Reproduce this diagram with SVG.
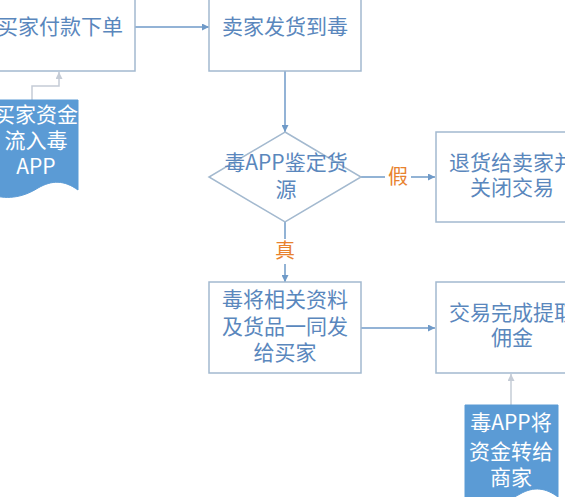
<svg xmlns="http://www.w3.org/2000/svg" width="565" height="497" viewBox="0 0 565 497">
<defs>
<style>
.box{fill:#ffffff;stroke:#a3b9cf;stroke-width:1.5}
.doc{fill:#5b9bd5;stroke:#5b9bd5;stroke-width:1}
.t{font-family:"Noto Sans CJK SC","Noto Sans",sans-serif;font-size:21px;fill:#5a87bd;text-anchor:middle}
.w{font-family:"Noto Sans CJK SC","Noto Sans",sans-serif;font-size:21px;fill:#ffffff;text-anchor:middle}
.lbl{font-family:"Noto Sans CJK SC","Noto Sans",sans-serif;font-size:20px;fill:#e8822e;text-anchor:middle}
.c{fill:none;stroke:#6f9ac8;stroke-width:1.5}
.g{fill:none;stroke:#c5ccd6;stroke-width:1.5}
</style>
<marker id="a" viewBox="0 0 10 10" refX="10" refY="5" markerWidth="7" markerHeight="7" orient="auto" markerUnits="userSpaceOnUse">
<path d="M0,0 L10,5 L0,10 z" fill="#6f9ac8"/>
</marker>
<marker id="ag" viewBox="0 0 10 10" refX="10" refY="5" markerWidth="7" markerHeight="7" orient="auto" markerUnits="userSpaceOnUse">
<path d="M0,0 L10,5 L0,10 z" fill="#c5ccd6"/>
</marker>
</defs>
<rect width="565" height="497" fill="#ffffff"/>
<g id="connectors">
<path class="c" d="M135,27 L209,27" marker-end="url(#a)"/>
<path class="c" d="M285,71 L285,132" marker-end="url(#a)"/>
<path class="c" d="M361,177 L385,177 M411,177 L435,177" marker-end="url(#a)"/>
<path class="c" d="M285,222 L285,239 M285,264 L285,282" marker-end="url(#a)"/>
<path class="c" d="M361,328 L435,328" marker-end="url(#a)"/>
<path class="g" d="M32,100 L32,86 L59,86 L59,72" marker-end="url(#ag)"/>
<path class="g" d="M511,405 L511,374" marker-end="url(#ag)"/>
<text class="lbl" x="398" y="184">假</text>
<text class="lbl" x="285" y="258">真</text>
</g>
<g id="n1">
<rect class="box" x="-17" y="-20" width="152" height="91"/>
<text class="t" x="60" y="34">买家付款下单</text>
</g>
<g id="n2">
<rect class="box" x="209" y="-20" width="152" height="91"/>
<text class="t" x="285" y="34">卖家发货到毒</text>
</g>
<g id="d1">
<path class="doc" d="M-12,100 L78,100 L78,190 C64,180 52,180 38,188 C22,198 6,200 -12,194 Z"/>
<text class="w" x="36" y="122">买家资金</text>
<text class="w" x="36" y="148">流入毒</text>
<text class="w" x="36" y="174">APP</text>
</g>
<g id="n3">
<path class="box" d="M285,132 L361,177 L285,222 L209,177 Z"/>
<text class="t" x="286" y="170">毒APP鉴定货</text>
<text class="t" x="286" y="197">源</text>
</g>
<g id="n4">
<rect class="box" x="436" y="132" width="152" height="90"/>
<text class="t" x="512" y="170">退货给卖家并</text>
<text class="t" x="512" y="195">关闭交易</text>
</g>
<g id="n5">
<rect class="box" x="209" y="282" width="152" height="91"/>
<text class="t" x="285" y="307">毒将相关资料</text>
<text class="t" x="285" y="334">及货品一同发</text>
<text class="t" x="285" y="360">给买家</text>
</g>
<g id="n6">
<rect class="box" x="436" y="282" width="152" height="91"/>
<text class="t" x="512" y="320">交易完成提取</text>
<text class="t" x="512" y="345">佣金</text>
</g>
<g id="d2">
<path class="doc" d="M465,405 L558,405 L558,497 C546,488 534,486 520,494 C505,503 485,506 465,500 Z"/>
<text class="w" x="511" y="430">毒APP将</text>
<text class="w" x="511" y="459">资金转给</text>
<text class="w" x="511" y="485">商家</text>
</g>
</svg>
